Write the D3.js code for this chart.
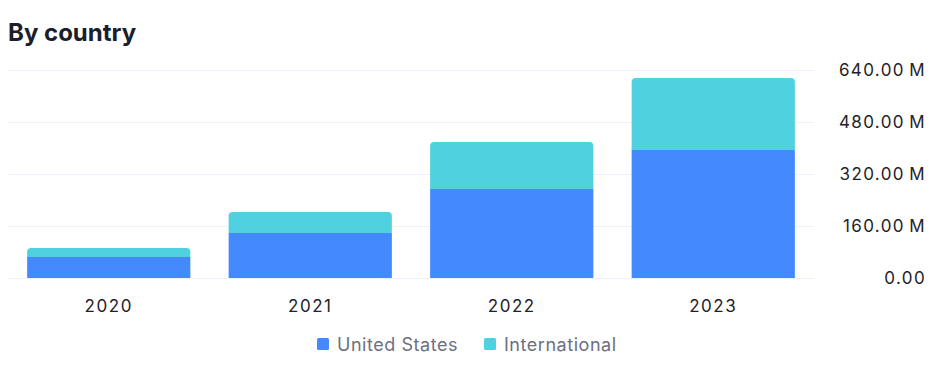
<!DOCTYPE html>
<html>
<head>
<meta charset="utf-8">
<script src="https://cdn.jsdelivr.net/npm/d3@7"></script>
<style>
  html, body { margin: 0; padding: 0; background: #fff; }
  svg { display: block; font-family: Inter, "Noto Sans", sans-serif; }
</style>
</head>
<body>
<svg id="chart" width="942" height="380"></svg>
<script>
const years = ["2020", "2021", "2022", "2023"];
const unitedStates = [64.6, 138.5, 273.8, 393.8];   // millions
const international = [27.7, 64.6, 144.6, 221.5];   // millions
const yTicks = [0, 160, 320, 480, 640];
const seriesNames = ["United States", "International"];
const seriesColors = ["#4589ff", "#4fd1e0"];

(function () {
const svg = d3.select("#chart");
const plotLeft = 8, plotRight = 814, plotTop = 70, plotBottom = 278;

const x = d3.scaleBand().domain(years).range([plotLeft, plotRight]).paddingInner(0.19).paddingOuter(0.095);
const y = d3.scaleLinear().domain([0, 640]).range([plotBottom, plotTop]);

svg.append("text").attr("x", 8).attr("y", 41)
  .attr("font-size", 24).attr("font-weight", 700).attr("fill", "#1b1e2b")
  .text("By country");

// gridlines
svg.append("g").selectAll("line").data(yTicks).join("line")
  .attr("x1", plotLeft).attr("x2", plotRight)
  .attr("y1", d => y(d) + 0.5).attr("y2", d => y(d) + 0.5)
  .attr("stroke", "#eef0fa").attr("stroke-width", 1);

// y axis labels
const fmt = d => d === 0 ? "0.00" : d3.format(".2f")(d) + "\u2009M";
const yAxis = d3.axisRight(y).tickValues(yTicks).tickFormat(fmt).tickSize(0).tickPadding(0);
const ya = svg.append("g").attr("transform", `translate(926,0)`).call(yAxis);
ya.select(".domain").remove();
ya.selectAll("text").attr("text-anchor", "end").attr("font-size", 17)
  .attr("fill", "#1f2329").attr("font-family", "Inter, sans-serif").attr("dy", "0.35em")
  .attr("letter-spacing", "0.08em");

// x axis labels
const xAxis = d3.axisBottom(x).tickSize(0).tickPadding(0);
const xa = svg.append("g").attr("transform", `translate(0,${plotBottom})`).call(xAxis);
xa.select(".domain").remove();
xa.selectAll("text").attr("font-size", 17).attr("fill", "#1f2329")
  .attr("font-family", "Inter, sans-serif").attr("y", 34).attr("dy", 0)
  .attr("letter-spacing", "0.09em");

// stacked bars
const rows = years.map((yr, i) => ({ year: yr, us: unitedStates[i], intl: international[i] }));
const stack = d3.stack().keys(["us", "intl"])(rows);
const r = 4;
stack.forEach((layer, li) => {
  const g = svg.append("g").attr("fill", seriesColors[li]);
  layer.forEach(d => {
    const x0 = x(d.data.year), w = x.bandwidth();
    const y0 = y(d[0]), y1 = y(d[1]);
    if (li === stack.length - 1) {
      const p = d3.path();
      p.moveTo(x0, y0);
      p.lineTo(x0, y1 + r);
      p.arcTo(x0, y1, x0 + r, y1, r);
      p.lineTo(x0 + w - r, y1);
      p.arcTo(x0 + w, y1, x0 + w, y1 + r, r);
      p.lineTo(x0 + w, y0);
      p.closePath();
      g.append("path").attr("d", p.toString());
    } else {
      g.append("rect").attr("x", x0).attr("y", y1).attr("width", w).attr("height", y0 - y1);
    }
  });
});

// legend
const legendX = [317, 484];
const lg = svg.append("g");
seriesNames.forEach((name, i) => {
  lg.append("rect").attr("x", legendX[i]).attr("y", 338).attr("width", 12).attr("height", 12)
    .attr("rx", 1.5).attr("fill", seriesColors[i]);
  lg.append("text").attr("x", legendX[i] + 20).attr("y", 351)
    .attr("font-size", 18).attr("fill", "#6c7081").attr("letter-spacing", "0.03em").text(name);
});
})();
</script>
</body>
</html>
